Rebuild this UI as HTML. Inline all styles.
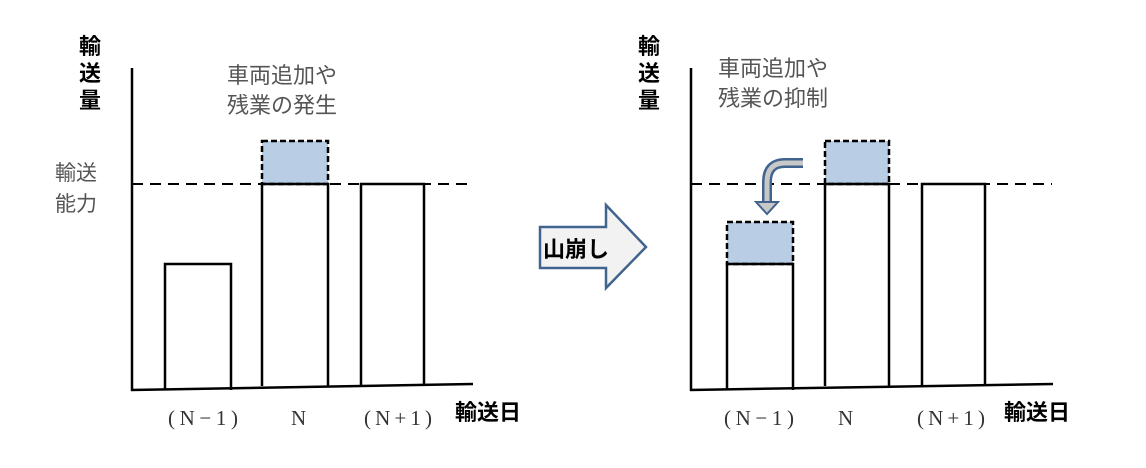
<!DOCTYPE html>
<html><head><meta charset="utf-8"><style>
body{margin:0;background:#fff;}
svg text{font-family:"Liberation Serif","Noto Serif CJK SC",serif;}
.b{font-family:"Liberation Sans","Noto Sans CJK JP",sans-serif !important;font-weight:bold;}
.g{fill:#555;font-family:"Liberation Sans","Noto Sans CJK JP",sans-serif !important;}
</style></head><body>
<svg width="1146" height="463" viewBox="0 0 1146 463" xmlns="http://www.w3.org/2000/svg">
<g stroke="#000" stroke-width="2.5" fill="none">
<line x1="132" y1="68" x2="132" y2="391"/>
<line x1="131" y1="390" x2="473" y2="384"/>
<rect x="262" y="141" width="66" height="43" fill="#b9cde5" stroke-dasharray="6,3"/>
<line x1="132" y1="184" x2="472" y2="184" stroke-dasharray="11,7" stroke-width="2"/>
<polyline points="165,390 165,264 231,264 231,390"/>
<polyline points="262,386 262,184 328,184 328,386"/>
<polyline points="361,385 361,184 424,184 424,385"/>
<line x1="691" y1="68" x2="691" y2="391"/>
<line x1="690" y1="390" x2="1053" y2="384"/>
<rect x="727" y="222" width="66" height="42" fill="#b9cde5" stroke-dasharray="6,3"/>
<rect x="825" y="141" width="64" height="43" fill="#b9cde5" stroke-dasharray="6,3"/>
<line x1="691" y1="184" x2="1052" y2="184" stroke-dasharray="11,7" stroke-width="2"/>
<polyline points="727,390 727,264 793,264 793,390"/>
<polyline points="825,386 825,184 889,184 889,386"/>
<polyline points="922,385 922,184 985,184 985,385"/>
</g>
<polygon points="540,227 606,227 606,205 646,247 606,288 606,268 540,268" fill="#f2f2f2" stroke="#41648f" stroke-width="2.5"/>
<text x="543" y="257" class="b" font-size="22" fill="#000">山崩し</text>
<path d="M803,163 L785,163 Q767,163 767,182 L767,202" fill="none" stroke="#41648f" stroke-width="10"/>
<path d="M803,163 L785,163 Q767,163 767,182 L767,203" fill="none" stroke="#c8c8c8" stroke-width="5"/>
<polygon points="756,202 778,202 767,214" fill="#c8c8c8" stroke="#41648f" stroke-width="2"/>
<g font-size="22" fill="#000">
<text x="79" y="54" class="b">輸</text><text x="79" y="81" class="b">送</text><text x="79" y="108" class="b">量</text>
<text x="638" y="54" class="b">輸</text><text x="638" y="81" class="b">送</text><text x="638" y="108" class="b">量</text>
<text x="455" y="420" class="b">輸送日</text>
<text x="1004" y="420" class="b">輸送日</text>
</g>
<text x="55" y="180" class="g" font-size="21">輸送</text>
<text x="55" y="211" class="g" font-size="21">能力</text>
<text x="227" y="83" class="g" font-size="22">車両追加や</text>
<text x="227" y="113" class="g" font-size="22">残業の発生</text>
<text x="718" y="76" class="g" font-size="22">車両追加や</text>
<text x="718" y="106" class="g" font-size="22">残業の抑制</text>
<g font-size="21" fill="#333">
<text x="168" y="425" textLength="70">(N−1)</text>
<text x="291" y="425">N</text>
<text x="364" y="425" textLength="68">(N+1)</text>
<text x="724" y="425" textLength="70">(N−1)</text>
<text x="838" y="425">N</text>
<text x="917" y="425" textLength="68">(N+1)</text>
</g>
</svg>
</body></html>
